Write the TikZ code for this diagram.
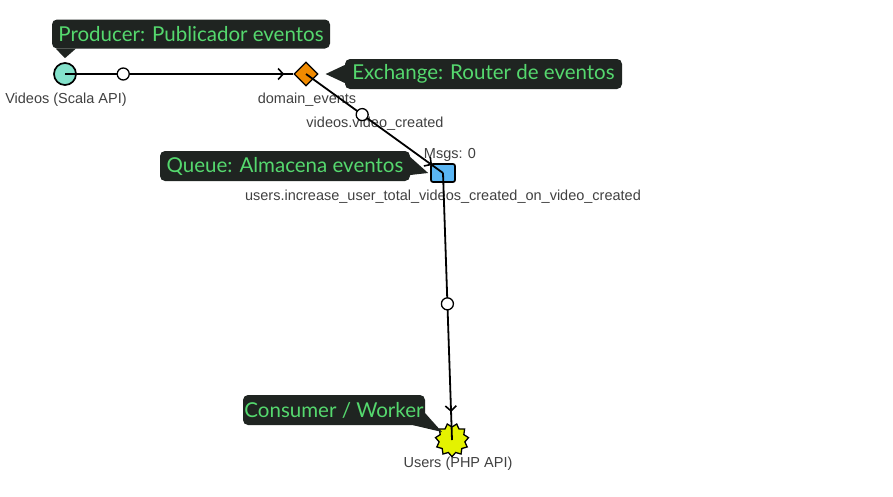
\documentclass[tikz,border=0pt]{standalone}
\usepackage{fontspec}
\setmainfont{Liberation Sans}
\newfontfamily\notefont{Lato}
\usetikzlibrary{shapes.geometric, arrows.meta, decorations.markings, positioning}

\definecolor{notebg}{HTML}{1F2421}
\definecolor{notefg}{HTML}{55D86E}
\definecolor{labelgray}{HTML}{404040}
\definecolor{producerfill}{HTML}{84E2CB}
\definecolor{exchangefill}{HTML}{F08A00}
\definecolor{queuefill}{HTML}{5AB6F4}
\definecolor{consumerfill}{HTML}{E4F200}

\tikzset{
    lbl/.style={text=labelgray, font=\fontsize{14.5}{16}\selectfont, inner sep=0pt},
    port/.style={circle, draw, fill=white, line width=1.3pt, minimum size=12pt, inner sep=0pt},
    flow/.style={line width=1.8pt, postaction={decorate},
        decoration={markings, mark=at position #1 with {\arrow{Straight Barb[length=5pt, width=11pt, line width=1.6pt]}}}},
    note/.style={rectangle, fill=notebg, text=notefg, rounded corners=5pt,
        font=\notefont\fontsize{20.5}{22}\selectfont, minimum height=30pt, inner sep=0pt},
    notetip/.style={fill=notebg}
}

\begin{document}
\begin{tikzpicture}[x=1pt, y=-1pt]
        \useasboundingbox (0,0) rectangle (893,496);
        \node[circle, draw, line width=1.7pt, fill=producerfill, minimum size=22pt] (Videos) at (65,74) {};
        \node[diamond, draw, line width=1.3pt, fill=exchangefill, minimum size=24pt, inner sep=0pt] (Exchange) at (306,74) {};
        \node[rectangle, draw, rounded corners=2pt, line width=1.7pt, fill=queuefill, minimum width=24pt, minimum height=18pt] (Queue) at (443,173) {};
        \node[star, star points=11, star point ratio=0.78, draw, line width=1.3pt, fill=consumerfill, minimum size=26pt, inner sep=0pt] (Users) at (452,440) {};

        \node[lbl] (VideosLbl) at (66,100) {Videos (Scala API)};
        \node[lbl] (ExchangeLbl) at (307,100) {domain\_events};
        \node[lbl] (RouteLbl) at (375,124) {videos.video\_created};
        \node[lbl] (MsgsLbl) at (450,155) {Msgs: 0};
        \node[lbl] (QueueLbl) at (443,197) {users.increase\_user\_total\_videos\_created\_on\_video\_created};
        \node[lbl] (UsersLbl) at (458,464) {Users (PHP API)};

        \draw[flow=0.96] (Videos.center) -- (Exchange.west) node[port, pos=0.255] (Port1) {};
        \draw[flow=0.92] (Exchange.center) -- (Queue.center) node[port, pos=0.41] (Port2) {};
        \draw[flow=0.895] (Queue.center) -- (Users.center) node[port, pos=0.49] (Port3) {};

        % callouts
        \node[note, minimum width=278pt, minimum height=29pt] (ProducerNote) at (191,34) {Producer: Publicador eventos};
        \fill[notetip] ([xshift=4pt]ProducerNote.south west) -- ([xshift=24pt]ProducerNote.south west) -- ([yshift=4pt]Videos.north) -- cycle;
        \node[note, minimum width=277pt] (ExchangeNote) at (483.5,74) {Exchange: Router de eventos};
        \fill[notetip] ([yshift=9pt]ExchangeNote.west) -- ([yshift=-9pt]ExchangeNote.west) -- ([xshift=7pt]Exchange.east) -- cycle;
        \node[note, minimum width=250pt] (QueueNote) at (285,166) {Queue: Almacena eventos};
        \fill[notetip] ([yshift=9pt]QueueNote.east) -- ([yshift=-9pt]QueueNote.east) -- ([xshift=-2pt]Queue.west) -- cycle;
        \node[note, minimum width=182pt] (ConsumerNote) at (334,410) {Consumer / Worker};
        \fill[notetip] ([yshift=12pt]ConsumerNote.south east) -- ([xshift=-12pt]ConsumerNote.south east) -- ([xshift=-10pt, yshift=8pt]Users.center) -- cycle;
\end{tikzpicture}
\end{document}
